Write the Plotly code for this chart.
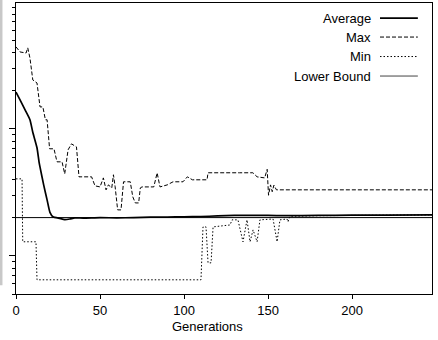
import plotly.graph_objects as go

# ---- data ----
avg_gen = [0, 2.4, 5.4, 8.3, 10, 12.5, 13.7, 14.3, 16.5, 18.5, 20.2, 22, 26, 29, 32, 35,
           40, 50, 60, 70, 80, 90, 100, 110, 120, 130, 140, 150, 160, 180, 200, 220, 247.6]
avg_val = [19.5, 16.9, 14.1, 11.8, 9.4, 7.1, 5.5, 5.0, 3.6, 2.76, 2.2, 2.03, 1.97, 1.93, 1.95, 1.99,
           1.98, 2.0, 1.99, 2.0, 2.02, 2.02, 2.03, 2.04, 2.06, 2.08, 2.08, 2.08, 2.07, 2.08, 2.09, 2.09, 2.10]

max_gen = [0, 2.4, 6, 7, 8.3, 10, 12.5, 14.3, 16, 17.5, 18.5, 20, 22.6, 24.4, 27.4, 29, 31, 33, 36,
           37.5, 45, 47, 50, 52, 53.6, 55, 57, 58, 59, 60.5, 62.5, 64, 68, 69.5, 71, 73, 74, 75,
           82, 84, 85.7, 90, 93.5, 99.4, 102, 105, 113.7, 114.3, 133, 141, 143.5, 148, 149.5,
           150.3, 151.5, 152.5, 153.5, 155, 247.6]
max_val = [44.3, 40.4, 39.6, 43.5, 36.2, 24.3, 23.0, 14.9, 14.9, 11.8, 11.8, 6.97, 6.97, 5.5, 5.5, 4.42, 6.84, 7.62, 7.21,
           4.19, 4.19, 3.56, 3.49, 4.11, 3.31, 3.62, 3.43, 4.35, 3.5, 2.30, 2.30, 3.83, 3.83, 2.92, 2.61, 2.61, 3.43, 3.49,
           3.49, 4.5, 3.49, 3.62, 3.83, 3.83, 4.19, 3.97, 3.97, 4.51, 4.51, 4.51, 4.19, 4.11, 4.8,
           3.0, 3.62, 3.2, 3.6, 3.31, 3.31]

min_gen = [0, 3.6, 4.0, 11.9, 12.5, 110.1, 111.3, 113.1, 114.3, 116.1, 117.3, 127.4, 128.6, 132.1,
           135.1, 137.5, 139.3, 141.1, 143.5, 145.2, 153, 155.4, 157.1, 161.3, 161.9, 163.1,
           180, 200, 220, 247.6]
min_val = [4.04, 4.04, 1.29, 1.29, 0.647, 0.647, 1.69, 1.69, 0.88, 0.88, 1.69, 1.75, 1.92, 1.92,
           1.29, 1.92, 1.29, 1.60, 1.29, 1.92, 1.95, 1.29, 1.92, 1.95, 1.85, 2.05,
           2.07, 2.09, 2.09, 2.10]

lb_gen = [0, 247.6]
lb_val = [2.0, 2.0]

x_ticks = [0, 50, 100, 150, 200]
y_major = [1, 10]
y_minor = [0.5, 0.6, 0.7, 0.8, 0.9, 2, 3, 4, 5, 6, 7, 8, 9, 20, 30, 40, 50, 60, 70, 80, 90]

legend_names = ["Average", "Max", "Min", "Lower Bound"]
x_title = "Generations"

FONT = "Liberation Sans, Arial, Helvetica, sans-serif"
MAX_DASH = "4px,2px"
MIN_DASH = "1.5px,2px"

fig = go.Figure()
fig.add_trace(go.Scatter(x=min_gen, y=min_val, mode="lines",
                         line=dict(color="black", width=1, dash=MIN_DASH), name="Min"))
fig.add_trace(go.Scatter(x=max_gen, y=max_val, mode="lines",
                         line=dict(color="black", width=1, dash=MAX_DASH), name="Max"))
fig.add_trace(go.Scatter(x=lb_gen, y=lb_val, mode="lines",
                         line=dict(color="black", width=1), name="Lower Bound"))
fig.add_trace(go.Scatter(x=avg_gen, y=avg_val, mode="lines",
                         line=dict(color="black", width=1.7, shape="spline", smoothing=0.5),
                         name="Average"))

# manual legend (text on the left, line sample on the right)
styles = [dict(color="black", width=1.7), dict(color="black", width=1, dash=MAX_DASH),
          dict(color="black", width=1, dash=MIN_DASH), dict(color="#444", width=1)]
rows_y = [0.948, 0.883, 0.816, 0.749]
shapes = []
annotations = []
for name, st, yy in zip(legend_names, styles, rows_y):
    annotations.append(dict(xref="paper", yref="paper", x=0.857, y=yy, text=name,
                            showarrow=False, xanchor="right", yanchor="middle",
                            font=dict(family=FONT, size=13, color="black")))
    shapes.append(dict(type="line", xref="paper", yref="paper", x0=0.875, x1=0.966,
                       y0=yy, y1=yy, line=st))
# x axis title (sits slightly left of centre in the reference)
annotations.append(dict(xref="paper", yref="paper", x=0.4615, y=-0.113, text=x_title,
                        showarrow=False, xanchor="center", yanchor="middle",
                        font=dict(family=FONT, size=13, color="black")))
# clipped remnant strip on the far left
shapes.append(dict(type="rect", xref="paper", yref="paper", x0=-0.0385, x1=-0.0325,
                   y0=0.03, y1=1.011, line=dict(width=0), fillcolor="#c8c8c8", layer="below"))

fig.update_layout(
    width=438, height=340,
    margin=dict(l=16, r=6, t=3, b=46, pad=0),
    paper_bgcolor="white", plot_bgcolor="white",
    showlegend=False,
    font=dict(family=FONT, size=13, color="black"),
    shapes=shapes, annotations=annotations,
    xaxis=dict(range=[0, 247.6], tickvals=x_ticks, ticks="outside", ticklen=4, tickwidth=1,
               tickcolor="black", showline=True, mirror=True, linecolor="black", linewidth=1,
               showgrid=False, zeroline=False, tickfont=dict(family=FONT, size=13, color="black")),
    yaxis=dict(type="log", range=[-0.301, 1.992], tickvals=y_major, ticks="outside", ticklen=6,
               tickwidth=1, tickcolor="black", showticklabels=False, showline=True, mirror=True,
               linecolor="black", linewidth=1, showgrid=False, zeroline=False,
               minor=dict(tickvals=y_minor, ticks="outside", ticklen=3, tickwidth=1,
                          tickcolor="black", showgrid=False)),
)

fig.write_html("out.html")
